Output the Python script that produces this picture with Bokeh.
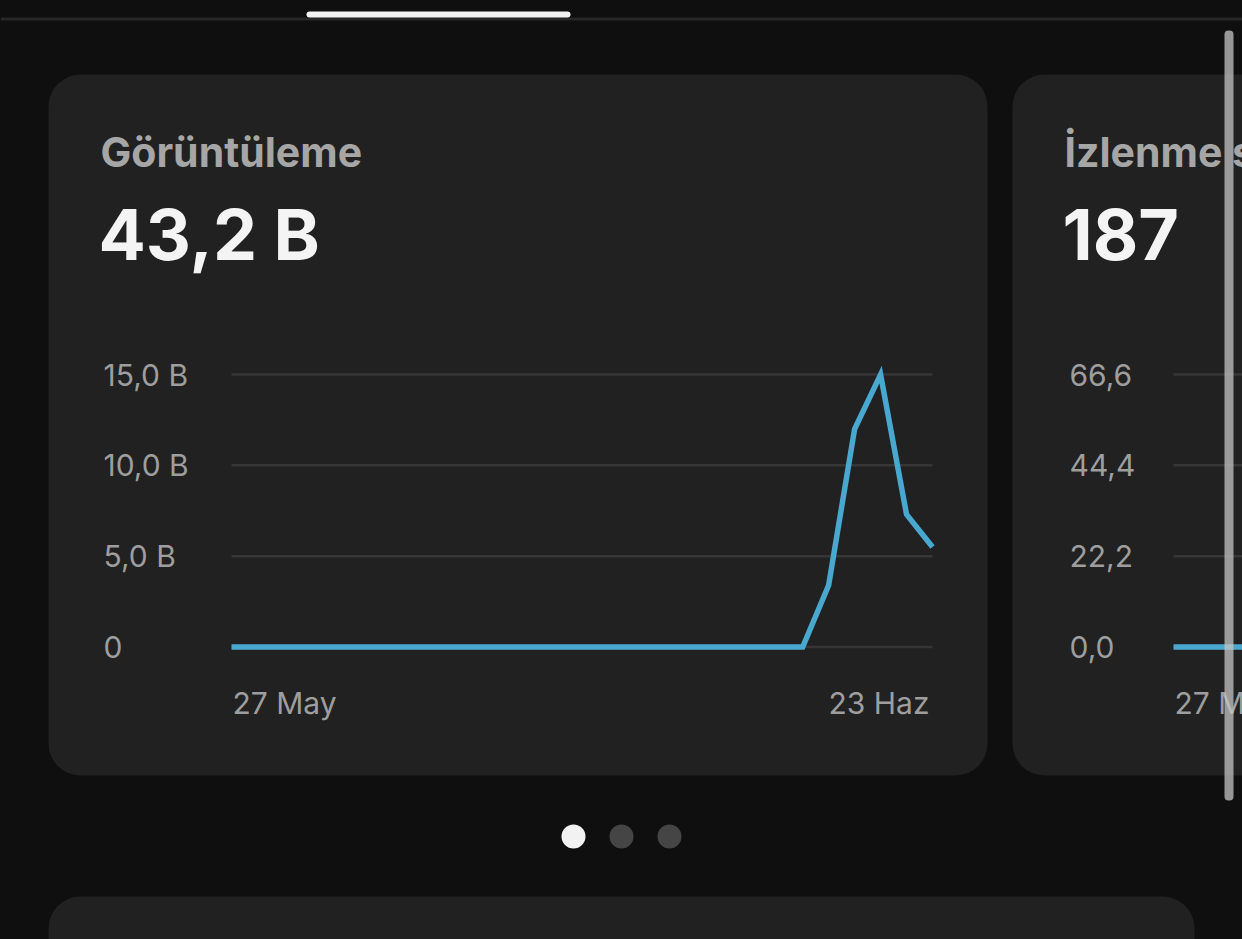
from datetime import datetime, timedelta

from bokeh.core.properties import value
from bokeh.embed import file_html
from bokeh.models import ColumnDataSource, Range1d
from bokeh.plotting import figure
from bokeh.resources import INLINE

# ---------------- data ----------------
views_title = "Görüntüleme"
views_total = "43,2 B"
view_dates = [datetime(2024, 5, 27) + timedelta(days=i) for i in range(28)]
views = [0, 0, 0, 0, 0, 0, 0, 0, 0, 0,
         0, 0, 0, 0, 0, 0, 0, 0, 0, 0,
         0, 0, 0, 3400, 12000, 15000, 7300, 5500]
view_ticks = [0, 5000, 10000, 15000]
view_tick_labels = ["0", "5,0 B", "10,0 B", "15,0 B"]
date_labels = ["27 May", "23 Haz"]

watch_title = "İzlenme süresi (saat)"
watch_total = "187"
watch_dates = view_dates[:4]
watch_hours = [0, 0, 0, 0]
watch_ticks = [0, 22.2, 44.4, 66.6]
watch_tick_labels = ["0,0", "22,2", "44,4", "66,6"]

# ---------------- style / layout ----------------
FONT = value("Inter")
BG = "#0f0f0f"
CARD = "#212121"
GRID = "#363636"
LINE = "#48a8d0"
MUTED = "#a6a6a6"
TICK = "#9e9e9e"

W, H = 1242, 939
PX0, PY0 = 0, 0

p = figure(width=W, height=H,
           x_range=Range1d(PX0, PX0 + W), y_range=Range1d(PY0 + H, PY0),
           x_axis_type=None, y_axis_type=None,
           toolbar_location=None, output_backend="svg",
           min_border=0, outline_line_color=None)
p.background_fill_color = BG
p.border_fill_color = BG

# top bar
p.quad(left=[PX0], right=[PX0 + W], top=[17], bottom=[20],
       fill_color="#272727", line_color=None)
p.quad(left=[306], right=[570], top=[11], bottom=[17], border_radius=3,
       fill_color="#f2f2f2", line_color=None)

# cards
p.quad(left=[48, 1012], right=[987, 1320], top=[74, 74], bottom=[775, 775],
       border_radius=32, fill_color=CARD, line_color=None)
p.quad(left=[48], right=[1194], top=[896], bottom=[1000],
       border_radius=32, fill_color=CARD, line_color=None)

# pager dots
p.scatter(x=[573, 621, 669], y=[836, 836, 836], size=24,
          fill_color=["#f2f2f2", "#454545", "#454545"], line_color=None)

# card headings
for x0, t, big in [(100, views_title, views_total), (1064, watch_title, watch_total)]:
    p.text(x=[x0], y=[151], text=[t], text_font=FONT, text_font_size="41px",
           text_font_style="bold", text_color=MUTED,
           text_baseline="middle", text_align="left")
    p.text(x=[x0 - 2], y=[234], text=[big], text_font=FONT, text_font_size="70px",
           text_font_style="bold", text_color="#f4f4f4",
           text_baseline="middle", text_align="left")

# ---------------- charts ----------------
PLOT_L, PLOT_R = 231, 932
Y_ZERO, Y_TOP = 646.5, 374
ppd = (PLOT_R - PLOT_L) / (len(view_dates) - 1)


def add_chart(name, dates, vals, ticks, tick_labels, left_px, label_px, grid_end):
    d0 = dates[0]
    p.extra_x_ranges[name] = Range1d(
        d0 - timedelta(days=(left_px - PX0) / ppd),
        d0 + timedelta(days=(PX0 + W - left_px) / ppd))
    k = (Y_ZERO - Y_TOP) / ticks[-1]
    p.extra_y_ranges[name] = Range1d(-(PY0 + H - Y_ZERO) / k, (Y_ZERO - PY0) / k)
    kw = dict(x_range_name=name, y_range_name=name)

    p.segment(x0=[d0] * len(ticks), x1=[grid_end] * len(ticks), y0=ticks, y1=ticks,
              line_color=GRID, line_width=2.5, **kw)
    src = ColumnDataSource(dict(x=dates, y=vals))
    p.line("x", "y", source=src, line_color=LINE, line_width=5.5,
           line_join="miter", **kw)
    p.text(x=[d0] * len(ticks), y=ticks, text=tick_labels, x_offset=label_px - left_px,
           text_font=FONT, text_font_size="30px", text_color=TICK,
           text_align="left", text_baseline="middle", **kw)
    p.text(x=[d0], y=[0], text=[date_labels[0]], x_offset=1, y_offset=56,
           text_font=FONT, text_font_size="30px", text_color=TICK,
           text_align="left", text_baseline="middle", **kw)
    p.text(x=[view_dates[-1]], y=[0], text=[date_labels[1]], x_offset=-3, y_offset=56,
           text_font=FONT, text_font_size="30px", text_color=TICK,
           text_align="right", text_baseline="middle", **kw)


add_chart("views", view_dates, views, view_ticks, view_tick_labels,
          PLOT_L, 103, view_dates[-1])
add_chart("watch", watch_dates, watch_hours, watch_ticks, watch_tick_labels,
          1173, 1069, view_dates[-1])

# scrollbar on top (semi-transparent)
p.quad(left=[1224], right=[1233], top=[30], bottom=[800], border_radius=4,
       fill_color="#c4c4c4", fill_alpha=0.75, line_color=None)

html = file_html(p, INLINE, title=views_title)
html = html.replace("</head>", "<style>html,body{background:#0f0f0f;}</style></head>", 1)
with open("out.html", "w", encoding="utf-8") as f:
    f.write(html)
